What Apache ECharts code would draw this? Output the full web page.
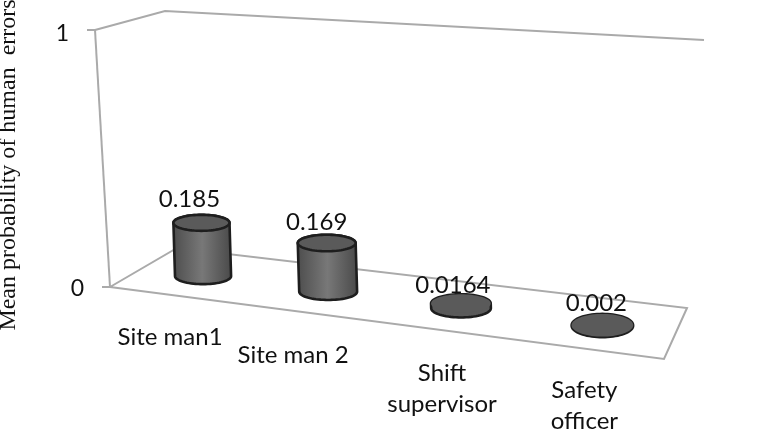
<!DOCTYPE html>
<html>
<head>
<meta charset="utf-8">
<style>
  html, body { margin: 0; padding: 0; background: #fff; }
  #chart { width: 784px; height: 429px; }
</style>
<script src="https://cdn.jsdelivr.net/npm/echarts@6/dist/echarts.min.js"></script>
</head>
<body>
<div id="chart"></div>
<script>
// values
const categories = ['Site man1', 'Site man 2', 'Shift\nsupervisor', 'Safety\nofficer'];
const meanProbability = [0.185, 0.169, 0.0164, 0.002];
const yTicks = [0, 1];

// the chart is a slanted 3D box, these are its corners on the page
const floorFL = [110, 287], floorFR = [664, 359], floorBR = [687, 308], floorBL = [177, 248];
const wallFL = [95, 30], wallBL = [165, 11], wallBR = [704, 40];
const perspective = 0.885;
const heightScale = 288 / 257;
const baseNudgeX = 1.7;
const catLabelOffset = [[-33, 61], [-35, 64], [-19, 81], [-18, 80]];
const valueLabelDy = [-24, -21, -18, -22];

const lineColor = '#aaaaaa';
const labelFont = 'Lato';
const labelSize = 24;

const lerp = (a, b, k) => [a[0] + (b[0] - a[0]) * k, a[1] + (b[1] - a[1]) * k];

// s along the category axis, t going into the depth of the floor
function floorPoint(s, t) {
    const f = s * perspective / (1 - s + s * perspective);
    return lerp(lerp(floorFL, floorBL, t), lerp(floorFR, floorBR, t), f);
}

function renderFrame(params, api) {
    const line = (pts) => ({
        type: 'polyline',
        shape: {points: pts},
        style: {stroke: lineColor, lineWidth: 2, fill: null}
    });
    return {
        type: 'group',
        children: [
            line([wallFL, floorFL]),
            line([wallFL, wallBL, wallBR]),
            line([floorFL, floorBL, floorBR, floorFR, floorFL]),
            line([[wallFL[0] - 8, wallFL[1]], wallFL]),
            line([[floorFL[0] - 8, floorFL[1]], floorFL])
        ]
    };
}

function renderCylinder(params, api) {
    const i = api.value(0);
    const v = api.value(1);
    const s = (api.coord([i, 0])[0] - params.coordSys.x) / params.coordSys.width;
    const base = floorPoint(s, 0.47);
    base[0] += baseNudgeX;
    const h = api.size([0, v])[1] * heightScale;
    const top = [base[0] - h * 0.03, base[1] - h];
    const rx = 27.6 + 3.6 * s;
    const ry = 8 + 5 * s * s * s;

    // outline: upper half of the top ellipse, lower half of the base ellipse
    const outline = [];
    for (let a = 0; a <= 36; a++) {
        const t = Math.PI + Math.PI * a / 36;
        outline.push([top[0] + rx * Math.cos(t), top[1] + ry * Math.sin(t)]);
    }
    for (let a = 0; a <= 36; a++) {
        const t = Math.PI * a / 36;
        outline.push([base[0] + rx * Math.cos(t), base[1] + ry * Math.sin(t)]);
    }
    const topEllipse = [];
    for (let a = 0; a < 72; a++) {
        const t = 2 * Math.PI * a / 72;
        topEllipse.push([top[0] + rx * Math.cos(t), top[1] + ry * Math.sin(t)]);
    }

    const tall = h > 10;
    const sideFill = tall ? new echarts.graphic.LinearGradient(0, 0, 1, 0, [
        {offset: 0, color: '#4c4c4c'},
        {offset: 0.5, color: '#787878'},
        {offset: 1, color: '#484848'}
    ]) : '#5a5a5a';

    const off = catLabelOffset[i];
    return {
        type: 'group',
        children: [
            {
                type: 'polygon',
                shape: {points: outline},
                style: {fill: sideFill, stroke: '#1e1e1e', lineWidth: 2.6}
            },
            {
                type: 'polygon',
                shape: {points: topEllipse},
                style: {fill: '#5a5a5a', stroke: tall ? '#1e1e1e' : null, lineWidth: 2.6}
            },
            {
                type: 'text',
                x: top[0] - 13 + 8 * s,
                y: top[1] + valueLabelDy[i],
                style: {
                    text: String(v),
                    fill: '#111',
                    font: labelSize + 'px ' + labelFont,
                    align: 'center',
                    verticalAlign: 'middle'
                }
            },
            {
                type: 'text',
                x: base[0] + off[0],
                y: base[1] + off[1],
                style: {
                    text: categories[i],
                    fill: '#111',
                    font: labelSize + 'px ' + labelFont,
                    align: 'center',
                    verticalAlign: 'middle',
                    lineHeight: 31
                }
            }
        ]
    };
}

const chart = echarts.init(document.getElementById('chart'), null, {renderer: 'canvas'});
chart.setOption({
    animation: false,
    backgroundColor: '#fff',
    // the axis name runs off the top of the page like in the picture, do not let the grid shrink for it
    grid: {left: 110, right: 120, top: 30, bottom: 142, containLabel: false, outerBoundsMode: 'none'},
    xAxis: {
        type: 'category',
        data: categories,
        axisLine: {show: false},
        axisTick: {show: false},
        axisLabel: {show: false}
    },
    yAxis: {
        type: 'value',
        min: yTicks[0],
        max: yTicks[1],
        interval: 1,
        name: 'Mean probability of human  errors',
        nameLocation: 'middle',
        nameGap: 89,
        nameRotate: 90,
        nameTextStyle: {
            fontFamily: 'Liberation Serif',
            fontSize: 24,
            color: '#111',
            padding: [0, 13, 0, 0]
        },
        axisLine: {show: false},
        axisTick: {show: false},
        splitLine: {show: false},
        axisLabel: {
            margin: 26,
            formatter: (val) => val === 1 ? '{top|1}' : '{low|0}',
            rich: {
                top: {fontFamily: labelFont, fontSize: 23, color: '#111', padding: [8, 15, 0, 0]},
                low: {fontFamily: labelFont, fontSize: 23, color: '#111', padding: [4, 0, 0, 0]}
            }
        }
    },
    series: [
        {
            type: 'custom',
            coordinateSystem: 'cartesian2d',
            renderItem: renderFrame,
            data: [[0, 0]],
            silent: true,
            clip: false,
            z: 1
        },
        {
            type: 'custom',
            coordinateSystem: 'cartesian2d',
            renderItem: renderCylinder,
            encode: {x: 0, y: 1},
            data: meanProbability.map((v, i) => [i, v]),
            silent: true,
            clip: false,
            z: 2
        }
    ]
});
</script>
</body>
</html>
